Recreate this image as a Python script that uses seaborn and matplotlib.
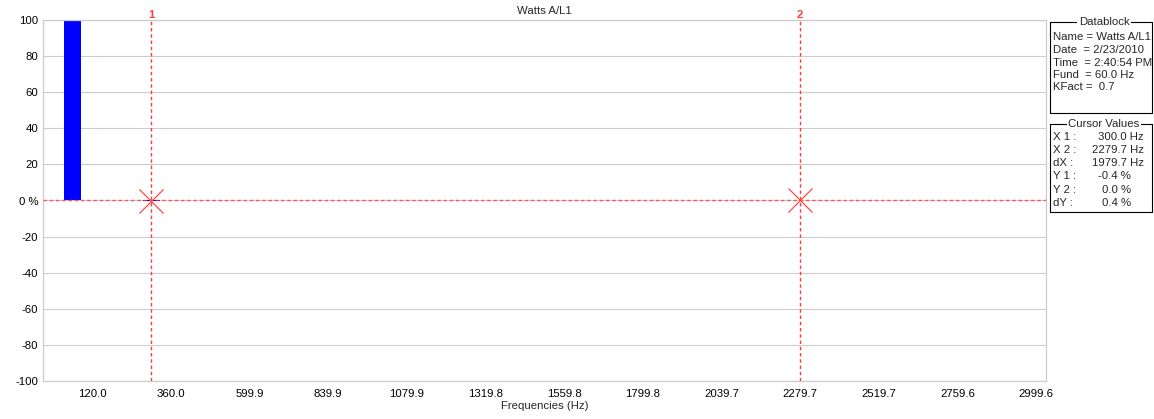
import numpy as np
import pandas as pd
import matplotlib
matplotlib.use("Agg")
import matplotlib.pyplot as plt
import matplotlib.transforms as mtransforms
import seaborn as sns

# ---------------- data ----------------
harmonic_orders = [0, 1, 2, 3, 4, 5, 6, 7, 8, 9, 10, 11, 12, 13, 14, 15, 16, 17, 18, 19,
                   20, 21, 22, 23, 24, 25, 26, 27, 28, 29, 30, 31, 32, 33, 34, 35, 36, 37,
                   38, 39, 40, 41, 42, 43, 44, 45, 46, 47, 48, 49, 50]
harmonic_values = [0.0, 100.0, 0.0, 0.0, 0.0, -0.4, 0.0, 0.0, 0.0, 0.0, 0.0, 0.0, 0.0,
                   0.0, 0.0, 0.0, 0.0, 0.0, 0.0, 0.0, 0.0, 0.0, 0.0, 0.0, 0.0, 0.0, 0.0,
                   0.0, 0.0, 0.0, 0.0, 0.0, 0.0, 0.0, 0.0, 0.0, 0.0, 0.0, 0.0, 0.0, 0.0,
                   0.0, 0.0, 0.0, 0.0, 0.0, 0.0, 0.0, 0.0, 0.0, 0.0]
fundamental_hz = 59.99
x_tick_labels = ["120.0", "360.0", "599.9", "839.9", "1079.9", "1319.8", "1559.8",
                 "1799.8", "2039.7", "2279.7", "2519.7", "2759.6", "2999.6"]
y_ticks = [-100, -80, -60, -40, -20, 0, 20, 40, 60, 80, 100]
y_tick_labels = ["-100", "-80", "-60", "-40", "-20", "0 %", "20", "40", "60", "80", "100"]
cursor_names = ["1", "2"]
cursor_x = [300.0, 2279.7]
cursor_y = [-0.4, 0.0]
title = "Watts A/L1"
x_label = "Frequencies (Hz)"
datablock_lines = ["Name = Watts A/L1", "Date  = 2/23/2010", "Time  = 2:40:54 PM",
                   "Fund  = 60.0 Hz", "KFact =  0.7"]
cursor_labels = ["X 1 :", "X 2 :", "dX :", "Y 1 :", "Y 2 :", "dY :"]
cursor_values = ["300.0 Hz", "2279.7 Hz", "1979.7 Hz", "-0.4 %", "0.0 %", "0.4 %"]

df = pd.DataFrame({"freq": [h * fundamental_hz for h in harmonic_orders],
                   "value": harmonic_values})

# ---------------- figure ----------------
sns.set_theme(style="white")
plt.rcParams["font.family"] = ["Liberation Sans", "DejaVu Sans"]
FS = 8.2
W, H = 1154, 419
fig = plt.figure(figsize=(W / 100, H / 100), dpi=100)
ax = fig.add_axes([43 / W, 1 - 381 / H, (1046 - 43) / W, (381 - 20) / H])

sns.barplot(data=df, x="freq", y="value", native_scale=True, width=0.87,
            color="#0000ff", saturation=1, edgecolor="none", linewidth=0, ax=ax)

ax.set_xlim(-30, 3030)
ax.set_ylim(-100, 100)
grid_c = "#cccccc"
ax.set_yticks(y_ticks)
ax.set_yticklabels(y_tick_labels)
ax.set_xticks([float(t) for t in x_tick_labels])
ax.set_xticklabels(x_tick_labels)
for yv in y_ticks:
    ax.axhline(yv, color=grid_c, lw=0.8, zorder=0)
for s in ax.spines.values():
    s.set_color(grid_c)
    s.set_linewidth(0.9)
ax.tick_params(axis="y", length=0, labelsize=FS, colors="#000000", pad=3.5)
ax.tick_params(axis="x", length=0, labelsize=FS, colors="#000000", pad=6)
ax.set_xlabel(x_label, fontsize=FS, labelpad=1)
ax.set_ylabel("")
ax.set_title(title, fontsize=FS, pad=4.5)

red = "#ff3c3c"
for cx in cursor_x:
    ax.axvline(cx, color=red, lw=1.0, ls=(0, (2.5, 2.0)), zorder=3)
ax.axhline(cursor_y[1], color=red, lw=1.0, ls=(0, (2.5, 2.0)), zorder=3, alpha=0.8)
sns.scatterplot(x=cursor_x, y=cursor_y, marker="x", s=300, color="#ff4848",
                linewidth=0.9, ax=ax, zorder=4, legend=False)
trans = mtransforms.blended_transform_factory(ax.transData, ax.transAxes)
for name, cx in zip(cursor_names, cursor_x):
    ax.text(cx, 1.0, name, transform=trans, ha="center", va="bottom",
            color=red, fontsize=FS, fontweight="bold")

# ---------------- side panels ----------------
ov = fig.add_axes([0, 0, 1, 1], facecolor="none")
ov.set_xlim(0, W)
ov.set_ylim(H, 0)
ov.axis("off")

def group_box(x0, y0, x1, y1, label):
    ov.plot([x0, x0, x1, x1, x0], [y0, y1, y1, y0, y0], color="#000000", lw=0.8)
    ov.text((x0 + x1) / 2 + 3, y0, label, ha="center", va="center", fontsize=FS,
            bbox=dict(facecolor="white", edgecolor="none", pad=1.2))

group_box(1050, 22, 1152, 113, "Datablock")
for i, line in enumerate(datablock_lines):
    ov.text(1053, 37.5 + i * 12.5, line, ha="left", va="center", fontsize=FS)

group_box(1050, 124, 1152, 212, "Cursor Values")
for i, (lab, val) in enumerate(zip(cursor_labels, cursor_values)):
    yy = 136.5 + i * 13.3
    ov.text(1053, yy, lab, ha="left", va="center", fontsize=FS)
    xr = 1144 if val.endswith("Hz") else 1131
    ov.text(xr, yy, val, ha="right", va="center", fontsize=FS)

fig.savefig("out.png", dpi=100)
